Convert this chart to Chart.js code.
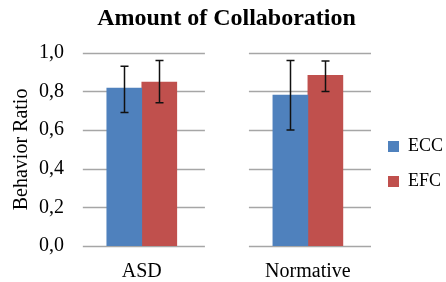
<!DOCTYPE html>
<html>
<head>
<meta charset="utf-8">
<script src="https://cdn.jsdelivr.net/npm/chart.js@4.4.0/dist/chart.umd.min.js"></script>
<style>
  html, body { margin: 0; padding: 0; background: #fff; }
  #wrap { width: 446px; height: 282px; }
</style>
</head>
<body>
<div id="wrap"><canvas id="chart" width="446" height="282"></canvas></div>
<script>
const groups = ['ASD', 'Normative'];
const yTicks = [0, 0.2, 0.4, 0.6, 0.8, 1.0];

const eccValues = [0.817, 0.781];
const eccLow = [0.691, 0.601];
const eccHigh = [0.931, 0.960];

const efcValues = [0.848, 0.884];
const efcLow = [0.741, 0.800];
const efcHigh = [0.960, 0.957];

const blue = '#4f81bd';
const red = '#c0504d';
const gridColor = '#a6a6a6';
const serif = "'Liberation Serif', 'DejaVu Serif', serif";

const toPoints = vals => vals.map((v, i) => ({ x: i, y: v }));

// Excel draws the gridlines as one short run per group
const groupGrid = {
  id: 'groupGrid',
  beforeDatasetsDraw(chart) {
    const { ctx, scales } = chart;
    const x = scales.x, y = scales.y;
    ctx.save();
    ctx.strokeStyle = gridColor;
    ctx.lineWidth = 1.5;
    groups.forEach((g, i) => {
      const x0 = x.getPixelForValue(i - 0.355);
      const x1 = x.getPixelForValue(i + 0.38);
      yTicks.forEach(t => {
        const py = Math.round(y.getPixelForValue(t)) + 0.5;
        ctx.beginPath();
        ctx.moveTo(x0, py);
        ctx.lineTo(x1, py);
        ctx.stroke();
      });
    });
    ctx.restore();
  }
};

const errorBars = {
  id: 'errorBars',
  afterDatasetsDraw(chart) {
    const { ctx, scales } = chart;
    const y = scales.y;
    const ranges = [[eccLow, eccHigh], [efcLow, efcHigh]];
    ctx.save();
    ctx.strokeStyle = '#111';
    ctx.lineWidth = 1.5;
    ranges.forEach(([lo, hi], d) => {
      chart.getDatasetMeta(d).data.forEach((bar, i) => {
        const cx = Math.round(bar.x) + 0.5;
        const yTop = y.getPixelForValue(hi[i]);
        const yBot = y.getPixelForValue(lo[i]);
        ctx.beginPath();
        ctx.moveTo(cx, yTop);
        ctx.lineTo(cx, yBot);
        ctx.moveTo(cx - 4, yTop);
        ctx.lineTo(cx + 4, yTop);
        ctx.moveTo(cx - 4, yBot);
        ctx.lineTo(cx + 4, yBot);
        ctx.stroke();
      });
    });
    ctx.restore();
  }
};

new Chart(document.getElementById('chart').getContext('2d'), {
  type: 'bar',
  data: {
    datasets: [
      { label: 'ECC', data: toPoints(eccValues), backgroundColor: blue, borderWidth: 0 },
      { label: 'EFC', data: toPoints(efcValues), backgroundColor: red, borderWidth: 0 }
    ]
  },
  options: {
    responsive: false,
    animation: false,
    barThickness: 35,
    layout: { padding: { left: 0, right: -7, top: 0, bottom: 0 } },
    scales: {
      x: {
        type: 'linear',
        offset: false,
        min: -0.36,
        max: 1.38,
        grid: { display: false },
        border: { display: false },
        afterBuildTicks(scale) { scale.ticks = groups.map((g, i) => ({ value: i })); },
        afterFit(scale) { scale.height = 36; },
        ticks: {
          color: '#000',
          padding: 6,
          font: { family: serif, size: 20 },
          callback: v => groups[v]
        }
      },
      y: {
        min: 0,
        max: 1,
        grid: { display: false, drawTicks: false },
        border: { display: false },
        afterFit(scale) { scale.width = 82; },
        ticks: {
          stepSize: 0.2,
          color: '#000',
          padding: 18,
          font: { family: serif, size: 20 },
          callback: v => v.toFixed(1).replace('.', ',')
        },
        title: {
          display: true,
          text: 'Behavior Ratio',
          color: '#000',
          padding: { top: 10, bottom: 0 },
          font: { family: serif, size: 20 }
        }
      }
    },
    plugins: {
      title: {
        display: true,
        text: 'Amount of Collaboration',
        color: '#000',
        padding: { top: 4, bottom: 20 },
        font: { family: serif, size: 24, weight: 'bold' }
      },
      legend: {
        position: 'right',
        title: {
          display: true,
          text: ' ',
          padding: { top: 0, bottom: 34 },
          font: { family: serif, size: 10 }
        },
        labels: {
          color: '#000',
          boxWidth: 11,
          boxHeight: 11,
          padding: 17,
          font: { family: serif, size: 18 }
        }
      },
      tooltip: { enabled: false }
    }
  },
  plugins: [groupGrid, errorBars]
});
</script>
</body>
</html>
